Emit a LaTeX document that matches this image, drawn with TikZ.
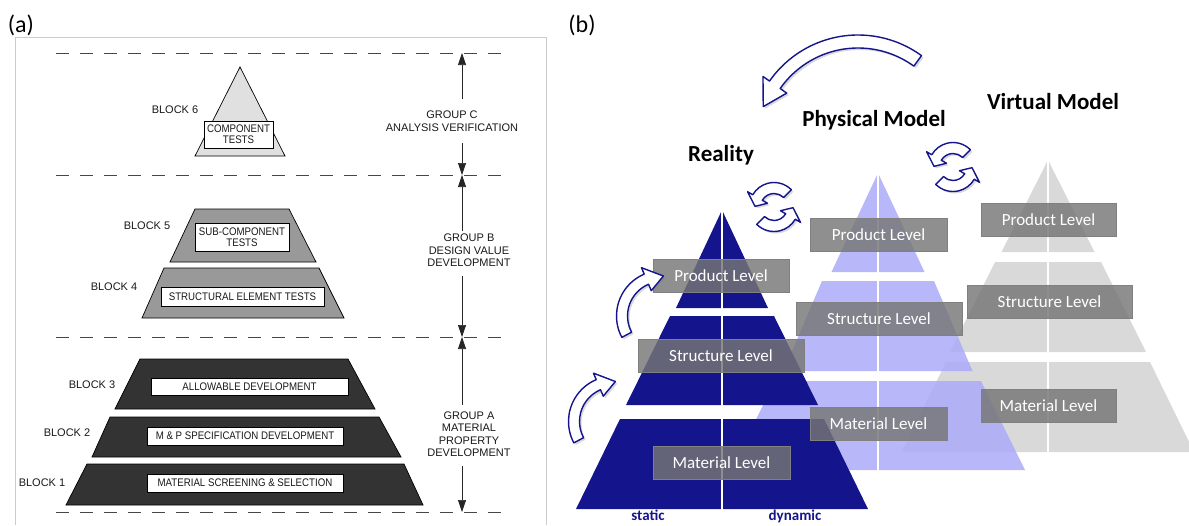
\documentclass[tikz,border=0pt]{standalone}
\usepackage{fontspec}
\setmainfont{Carlito}
\newfontfamily\blockfont{Liberation Sans}
\newfontfamily\narrowfont[FakeStretch=0.88]{Liberation Sans}
\usetikzlibrary{arrows.meta, calc, shadows}
\definecolor{navy1}{RGB}{20, 20, 140}
\definecolor{physblue}{RGB}{170, 170, 248}
\definecolor{virtgray}{RGB}{217, 217, 217}
\definecolor{lvlgray}{RGB}{118, 118, 118}
\definecolor{dashgray}{RGB}{70, 70, 70}

% curved band arrow: center, radius, start, end, half width, head extra, tip angle
\newcommand{\ringarrow}[7]{%
  \filldraw[ringarr] ($(#1)+(#3:#2+#5)$) arc[start angle=#3, end angle=#4, radius=#2+#5]
    -- ($(#1)+(#4:#2+#5+#6)$) -- ($(#1)+(#7:#2)$) -- ($(#1)+(#4:#2-#5-#6)$)
    -- ($(#1)+(#4:#2-#5)$) arc[start angle=#4, end angle=#3, radius=#2-#5] -- cycle;}

\tikzset{
  blocklbl/.style={font=\blockfont\fontsize{11}{12.5}\selectfont, text=black!90, align=center, inner sep=0pt},
  blockbox/.style={draw=black, line width=0.8pt, fill=white, font=\narrowfont\fontsize{11}{11}\selectfont, text=black!90, align=center, inner sep=1pt},
  levelbox/.style={draw=black!50, line width=0.8pt, fill=lvlgray, fill opacity=0.82, text opacity=1, text=white, font=\fontsize{17}{20}\selectfont, minimum height=33pt, inner sep=0pt},
  modeltitle/.style={font=\bfseries\fontsize{23}{26}\selectfont, inner sep=0pt, anchor=base},
  ringarr/.style={draw=navy1, line width=1.4pt, fill=white, line join=round, drop shadow={opacity=0.3, shadow xshift=2pt, shadow yshift=-2pt}},
  grparrow/.style={-{Triangle[length=12pt, width=8pt]}, line width=0.7pt, black!85},
  sepline/.style={dashgray, line width=1pt, dash pattern=on 13pt off 11pt},
}

\begin{document}
\begin{tikzpicture}[x=1pt, y=-1pt]
  \useasboundingbox (0,0) rectangle (1189,525);

  % (a) building block pyramid
  \node[font=\fontsize{24}{26}\selectfont, anchor=base] (tagA) at (21,32) {(a)};
  \draw[black!20, line width=0.8pt] (15,525) -- (15,37) -- (546,37) -- (546,525);

  \foreach \yy/\nm in {53/sepC, 175/sepB, 337/sepA, 512/sepZ}{
    \draw[sepline] (56,\yy) -- (512,\yy);
    \coordinate (\nm) at (462,\yy);
  }

  % group labels and arrows
  \node[blocklbl] (grpC) at (452,121) {GROUP C\\ANALYSIS VERIFICATION};
  \node[blocklbl] (grpB) at (469,250.5) {GROUP B\\DESIGN VALUE\\DEVELOPMENT};
  \node[blocklbl] (grpA) at (469,434) {GROUP A\\MATERIAL\\PROPERTY\\DEVELOPMENT};
  \draw[grparrow, shorten <=12pt] (grpC.north -| sepC) -- (sepC);
  \draw[grparrow, shorten <=12pt] (grpC.south -| sepC) -- (sepB);
  \draw[grparrow, shorten <=3pt] (grpB.north -| sepB) -- (sepB);
  \draw[grparrow, shorten <=9pt] (grpB.south -| sepB) -- (sepA);
  \draw[grparrow, shorten <=6pt] (grpA.north -| sepA) -- (sepA);
  \draw[grparrow, shorten <=9pt] (grpA.south -| sepA) -- (sepZ);

  % block 6
  \filldraw[fill=black!12, draw=black, line width=0.7pt] (240,67) -- (285,156) -- (195,156) -- cycle;
  \node[blockbox, minimum width=69pt, minimum height=27pt] (blk6) at (238.5,134.5) {COMPONENT\\TESTS};
  \node[blocklbl] (lbl6) at (175,110) {BLOCK 6};

  % blocks 5 and 4
  \filldraw[fill=black!40, draw=black, line width=0.7pt] (195,209) -- (289,209) -- (316,262) -- (170,262) -- cycle;
  \node[blockbox, minimum width=94pt, minimum height=28pt] (blk5) at (242,237) {SUB-COMPONENT\\TESTS};
  \node[blocklbl] (lbl5) at (147,226) {BLOCK 5};
  \filldraw[fill=black!40, draw=black, line width=0.7pt] (164,268) -- (319,268) -- (344,318) -- (142,318) -- cycle;
  \node[blockbox, minimum width=163pt, minimum height=19pt] (blk4) at (242.5,296.5) {STRUCTURAL ELEMENT TESTS};
  \node[blocklbl] (lbl4) at (114,287) {BLOCK 4};

  % blocks 3, 2 and 1
  \filldraw[fill=black!80, draw=black, line width=0.7pt] (140,359) -- (348,359) -- (375,409) -- (115,409) -- cycle;
  \node[blockbox, minimum width=197pt, minimum height=17pt] (blk3) at (249.5,386.5) {ALLOWABLE DEVELOPMENT};
  \node[blocklbl] (lbl3) at (92,385) {BLOCK 3};
  \filldraw[fill=black!80, draw=black, line width=0.7pt] (110,417) -- (379,417) -- (401,457) -- (92,457) -- cycle;
  \node[blockbox, minimum width=196pt, minimum height=18pt] (blk2) at (245,436) {M \& P SPECIFICATION DEVELOPMENT};
  \node[blocklbl] (lbl2) at (67,433) {BLOCK 2};
  \filldraw[fill=black!80, draw=black, line width=0.7pt] (87,464) -- (404,464) -- (423,505) -- (66,505) -- cycle;
  \node[blockbox, minimum width=196pt, minimum height=18pt] (blk1) at (245,483) {MATERIAL SCREENING \& SELECTION};
  \node[blocklbl] (lbl1) at (42,483) {BLOCK 1};

  % (b) reality / physical / virtual
  \node[font=\fontsize{24}{26}\selectfont, anchor=base] (tagB) at (582,32) {(b)};

  % virtual model
  \foreach \t/\tw/\b/\bw in {160/0/252/46.5, 262/53/352/98, 362/102/452/146}
    \fill[virtgray] (1048-\tw,\t) -- (1048+\tw,\t) -- (1048+\bw,\b) -- (1048-\bw,\b) -- cycle;
  \draw[white, line width=2.5pt] (1048,152) -- (1048,460);

  % physical model
  \foreach \t/\tw/\b/\bw in {173/0/272/46.5, 281/56/371/94.5, 381/103/470/147}
    \fill[physblue, opacity=0.85] (878-\tw,\t) -- (878+\tw,\t) -- (878+\bw,\b) -- (878-\bw,\b) -- cycle;
  \draw[white, line width=2.5pt] (878,168) -- (878,478);

  % reality
  \foreach \t/\tw/\b/\bw in {210/0/308/46, 316/52/405/96, 419/102/509/146}
    \fill[navy1] (722-\tw,\t) -- (722+\tw,\t) -- (722+\bw,\b) -- (722-\bw,\b) -- cycle;
  \draw[white, line width=2.5pt] (722,205) -- (722,517);

  % levels
  \node[levelbox, minimum width=136pt] (rProd) at (721,275.5) {Product Level};
  \node[levelbox, minimum width=166pt] (rStruc) at (721,355.5) {Structure Level};
  \node[levelbox, minimum width=137pt] (rMat) at (721.5,462.5) {Material Level};
  \node[levelbox, minimum width=137pt] (pProd) at (878.5,235) {Product Level};
  \node[levelbox, minimum width=166pt] (pStruc) at (879,318.5) {Structure Level};
  \node[levelbox, minimum width=137pt] (pMat) at (878.5,424) {Material Level};
  \node[levelbox, minimum width=135pt] (vProd) at (1048.5,220) {Product Level};
  \node[levelbox, minimum width=165pt] (vStruc) at (1049.5,302) {Structure Level};
  \node[levelbox, minimum width=135pt] (vMat) at (1048.5,405.5) {Material Level};

  % titles
  \node[modeltitle] (tReal) at (721,161) {Reality};
  \node[modeltitle] (tPhys) at (874,126) {Physical Model};
  \node[modeltitle] (tVirt) at (1053,109) {Virtual Model};
  \node[font=\bfseries\fontsize{15}{17}\selectfont, text=navy1, anchor=base] (stat) at (648,520) {static};
  \node[font=\bfseries\fontsize{15}{17}\selectfont, text=navy1, anchor=base] (dyn) at (795,520) {dynamic};

  % arrows
  \ringarrow{858,143}{101.5}{-54}{-145}{6.5}{8}{-159}
  \ringarrow{662,316}{40}{152}{247}{5.5}{7}{272}
  \ringarrow{614,421.5}{40}{152}{247}{5.5}{7}{272}
  \ringarrow{774,207}{19}{-45}{-150}{5.5}{6}{-178}
  \ringarrow{774,207}{19}{135}{30}{5.5}{6}{2}
  \ringarrow{953,167}{19}{-45}{-150}{5.5}{6}{-178}
  \ringarrow{953,167}{19}{135}{30}{5.5}{6}{2}
\end{tikzpicture}
\end{document}
